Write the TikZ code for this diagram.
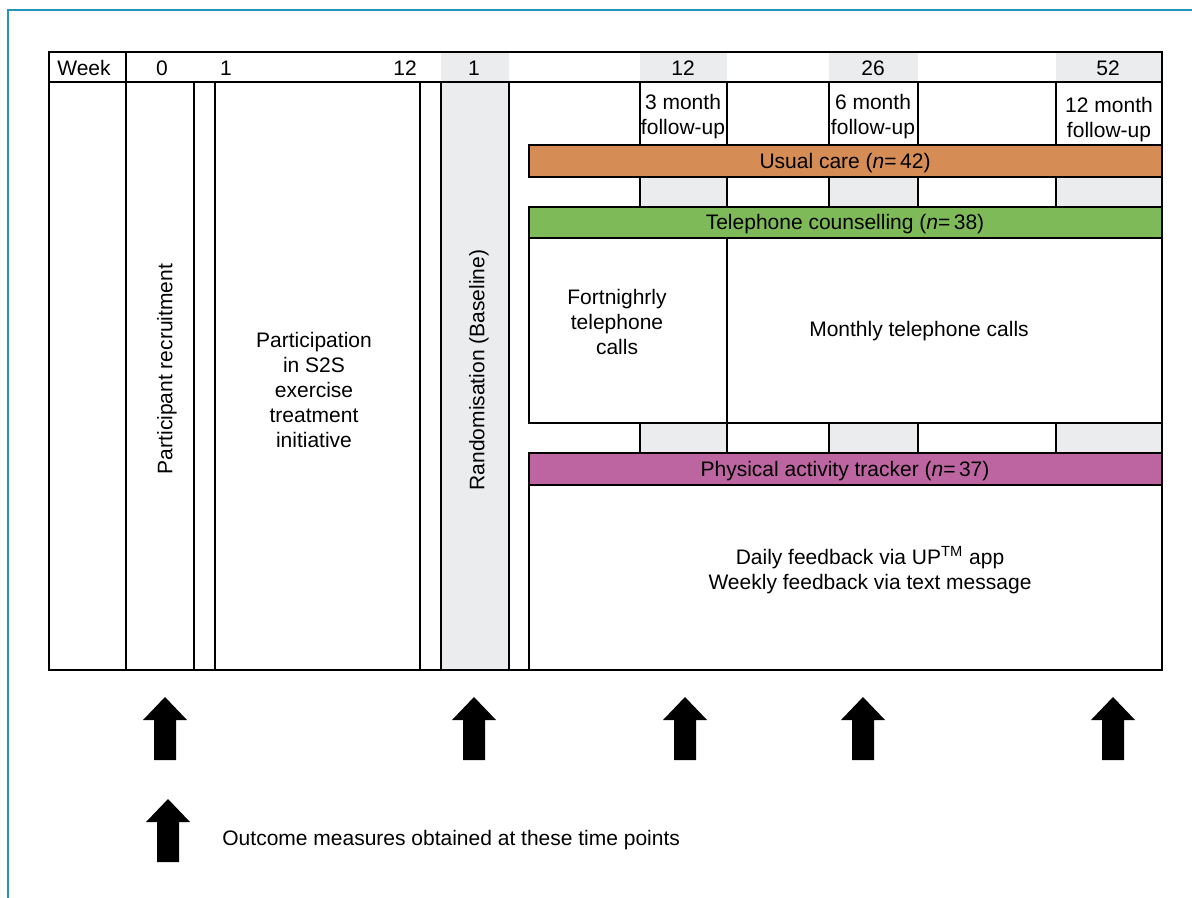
\documentclass[tikz,border=0pt]{standalone}
\usepackage{fontspec}
\setmainfont{Liberation Sans}
\usepackage{tikz}
\definecolor{framecol}{RGB}{33,150,186}
\definecolor{cellgray}{RGB}{234,236,238}
\definecolor{usualcol}{RGB}{214,140,85}
\definecolor{phonecol}{RGB}{127,186,89}
\definecolor{trackcol}{RGB}{189,101,160}

\begin{document}
\begin{tikzpicture}[x=0.5pt, y=-0.5pt, text=black,
  rule/.style={line width=1.3pt},
  greycell/.style={fill=cellgray},
  txt/.style={font=\fontsize{10.5}{12.5}\selectfont, align=center, inner sep=0pt},
  upblock/.pic={\fill[black] (0,0) -- (22,23) -- (11,23) -- (11,63)
    -- (-11,63) -- (-11,23) -- (-22,23) -- cycle;}]

\useasboundingbox (0,0) rectangle (1192,898);
\draw [framecol, line width=1.3pt] (8,898) -- (8,10) -- (1192,10);

% grey cells
\fill [greycell] (441,52) rectangle (509,670);
\fill [greycell] (640,52) rectangle (727,82);
\fill [greycell] (829,52) rectangle (918,82);
\fill [greycell] (1056,52) rectangle (1162,82);
\fill [greycell] (640,177) rectangle (727,207);
\fill [greycell] (829,177) rectangle (918,207);
\fill [greycell] (1056,177) rectangle (1162,207);
\fill [greycell] (640,423) rectangle (727,453);
\fill [greycell] (829,423) rectangle (918,453);
\fill [greycell] (1056,423) rectangle (1162,453);

% table frame and columns
\draw [rule] (49,52) rectangle (1162,670);
\draw [rule] (49,82) -- (1162,82);
\draw [rule] (126,52) -- (126,670);
\draw [rule] (194,82) -- (194,670);
\draw [rule] (215,82) -- (215,670);
\draw [rule] (420,82) -- (420,670);
\draw [rule] (441,82) -- (441,670);
\draw [rule] (509,82) -- (509,670);

% follow-up ticks
\draw [rule] (640,82) -- (640,145);
\draw [rule] (727,82) -- (727,145);
\draw [rule] (829,82) -- (829,145);
\draw [rule] (918,82) -- (918,145);
\draw [rule] (1056,82) -- (1056,145);

\draw [rule] (640,177) -- (640,207);
\draw [rule] (727,177) -- (727,207);
\draw [rule] (829,177) -- (829,207);
\draw [rule] (918,177) -- (918,207);
\draw [rule] (1056,177) -- (1056,207);

\draw [rule] (640,423) -- (640,453);
\draw [rule] (727,423) -- (727,453);
\draw [rule] (829,423) -- (829,453);
\draw [rule] (918,423) -- (918,453);
\draw [rule] (1056,423) -- (1056,453);

% study arms
\draw [rule, fill=usualcol] (529,145) rectangle (1162,177);
\draw [rule, fill=phonecol] (529,207) rectangle (1162,238);
\draw [rule] (529,238) rectangle (1162,423);
\draw [rule] (727,238) -- (727,423);
\draw [rule, fill=trackcol] (529,453) rectangle (1162,485);
\draw [rule] (529,485) rectangle (1162,670);

% header
\path (84,68) node [txt] (week) {Week};
\path (162,68) node [txt] (wk0) {0};
\path (226,68) node [txt] (wk1) {1};
\path (405,68) node [txt] (wk12) {12};
\path (474,68) node [txt] (base1) {1};
\path (683,68) node [txt] (fu12) {12};
\path (873,68) node [txt] (fu26) {26};
\path (1108,68) node [txt] (fu52) {52};

\path (683,117) node [txt] (three) {3 month\\follow-up};
\path (873,117) node [txt] (six) {6 month\\follow-up};
\path (1109,120) node [txt] (twelve) {12 month\\follow-up};

% bars and boxes
\path (845,163) node [txt] (usual) {Usual care (\textit{n}=\,42)};
\path (845,224) node [txt] (phone) {Telephone counselling (\textit{n}=\,38)};
\path (617,322) node [txt] (fortnight) {Fortnighrly\\telephone\\calls};
\path (919,331) node [txt] (monthly) {Monthly telephone calls};
\path (845,471) node [txt] (tracker) {Physical activity tracker (\textit{n}=\,37)};
\path (870,570) node [txt] (feedback)
  {Daily feedback via UP\textsuperscript{TM} app\\Weekly feedback via text message};

\path (167,369) node [txt, rotate=90] (recruit) {Participant recruitment};
\path (314,390) node [txt] (s2s) {Participation\\in S2S\\exercise\\treatment\\initiative};
\path (479,370) node [txt, rotate=90] (random) {Randomisation (Baseline)};

% outcome arrows
\pic at (165,697) {upblock};
\pic at (474,697) {upblock};
\pic at (685,697) {upblock};
\pic at (863,697) {upblock};
\pic at (1113,697) {upblock};

\pic at (168,799) {upblock};
\path (222,840) node [txt, anchor=west] (legend) {Outcome measures obtained at these time points};

\end{tikzpicture}
\end{document}
